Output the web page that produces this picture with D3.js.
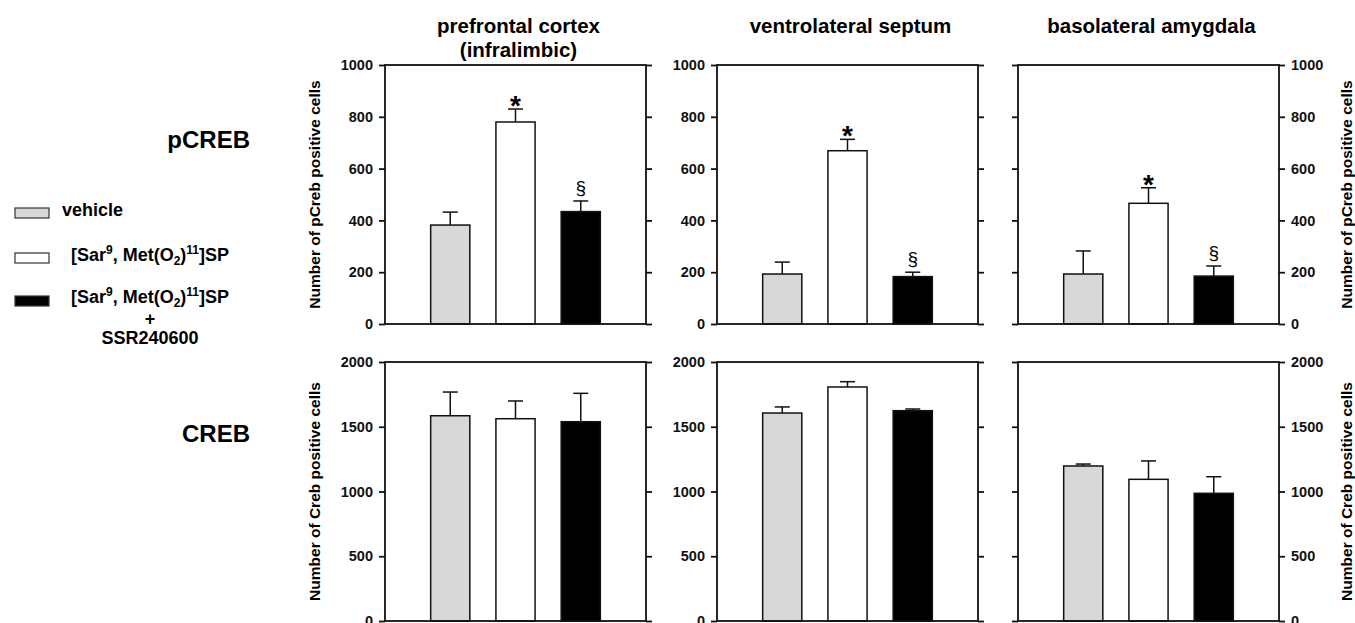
<!DOCTYPE html>
<meta charset="utf-8">
<html>
<head>
  <script src="https://d3js.org/d3.v7.min.js"></script>
  <style>
    body { margin: 0; background: #fff; }
    svg { font-family: "Liberation Sans", Arial, sans-serif; font-weight: bold; }
    .tick text { font-size: 14.5px; font-weight: bold; }
  </style>
</head>
<body>
  <svg width="1355" height="623"></svg>

  <script>
    // groups and regions
    const groups = ["vehicle", "SP", "SP+SSR"];
    const regions = [["prefrontal cortex", "(infralimbic)"], ["ventrolateral septum"], ["basolateral amygdala"]];

    // pCREB counts (mean, SEM) per region, per group
    const pcrebMean = [[382, 780, 434], [193, 669, 183], [193, 466, 185]];
    const pcrebSem  = [[50, 50, 41], [46, 44, 17], [89, 60, 39]];
    const pcrebMarks = [["", "*", "§"], ["", "*", "§"], ["", "*", "§"]];

    // CREB counts
    const crebMean = [[1585, 1562, 1539], [1606, 1807, 1624], [1197, 1094, 986]];
    const crebSem  = [[183, 137, 219], [47, 41, 13], [15, 142, 128]];

    const pcrebTicks = [0, 200, 400, 600, 800, 1000];
    const crebTicks = [0, 500, 1000, 1500, 2000];

    const fills = {"vehicle": "#d8d8d8", "SP": "#ffffff", "SP+SSR": "#000000"};

    const svg = d3.select("svg");
    const panelLeft = [385, 717, 1018];
    const panelW = 261;
    const rows = [
      {top: 65, bottom: 324, max: 1000, ticks: pcrebTicks, mean: pcrebMean, sem: pcrebSem, marks: pcrebMarks,
       label: "Number of pCreb positive cells", name: "pCREB", nameY: 148},
      {top: 362, bottom: 621, max: 2000, ticks: crebTicks, mean: crebMean, sem: crebSem, marks: null,
       label: "Number of Creb positive cells", name: "CREB", nameY: 442}
    ];

    rows.forEach(row => {
      const y = d3.scaleLinear().domain([0, row.max]).range([row.bottom, row.top]);

      svg.append("text")
        .attr("x", 250).attr("y", row.nameY)
        .attr("text-anchor", "end")
        .style("font-size", "24px")
        .text(row.name);

      panelLeft.forEach((x0, p) => {
        const x = d3.scaleBand().domain(groups).range([x0, x0 + panelW])
          .paddingInner(0.4).paddingOuter(0.7);
        const g = svg.append("g");

        // bars
        g.selectAll("rect.bar")
          .data(groups)
          .enter().append("rect")
            .attr("class", "bar")
            .attr("x", d => x(d))
            .attr("width", x.bandwidth())
            .attr("y", (d, i) => y(row.mean[p][i]))
            .attr("height", (d, i) => y(0) - y(row.mean[p][i]))
            .attr("fill", d => fills[d])
            .attr("stroke", "#111")
            .attr("stroke-width", 1.5);

        // error bars (upper only)
        groups.forEach((d, i) => {
          const cx = x(d) + x.bandwidth() / 2;
          const yTop = y(row.mean[p][i] + row.sem[p][i]);
          g.append("line")
            .attr("x1", cx).attr("x2", cx)
            .attr("y1", y(row.mean[p][i])).attr("y2", yTop)
            .attr("stroke", "#111").attr("stroke-width", 1.5);
          g.append("line")
            .attr("x1", cx - 7.5).attr("x2", cx + 7.5)
            .attr("y1", yTop).attr("y2", yTop)
            .attr("stroke", "#111").attr("stroke-width", 1.5);
          if (row.marks && row.marks[p][i] === "*") {
            g.append("text").attr("x", cx).attr("y", yTop + 6)
              .attr("text-anchor", "middle").style("font-size", "28px")
              .text("*");
          } else if (row.marks && row.marks[p][i] === "§") {
            g.append("text").attr("x", cx).attr("y", yTop - 7)
              .attr("text-anchor", "middle").style("font-size", "19px")
              .style("font-weight", "normal")
              .text("§");
          }
        });

        // frame
        g.append("rect")
          .attr("x", x0).attr("y", row.top)
          .attr("width", panelW).attr("height", row.bottom - row.top)
          .attr("fill", "none").attr("stroke", "#111").attr("stroke-width", 1.8);

        // left and right axes
        const leftAx = d3.axisLeft(y).tickValues(row.ticks).tickSize(6).tickPadding(6).tickFormat(d3.format("d"));
        const rightAx = d3.axisRight(y).tickValues(row.ticks).tickSize(6).tickPadding(6).tickFormat(d3.format("d"));
        const la = g.append("g").attr("transform", `translate(${x0},0)`).call(leftAx);
        const ra = g.append("g").attr("transform", `translate(${x0 + panelW},0)`).call(rightAx);
        [la, ra].forEach(a => {
          a.select(".domain").remove();
          a.selectAll(".tick line").attr("stroke", "#111").attr("stroke-width", 1.8);
          a.selectAll(".tick text").attr("fill", "#111");
        });
        if (p === 2) la.selectAll(".tick text").remove();
        else ra.selectAll(".tick text").remove();
      });

      // y-axis titles
      const mid = (row.top + row.bottom) / 2;
      svg.append("text")
        .attr("transform", `translate(320,${mid}) rotate(-90)`)
        .attr("text-anchor", "middle")
        .style("font-size", "15.5px")
        .text(row.label);
      svg.append("text")
        .attr("transform", `translate(1352,${mid}) rotate(-90)`)
        .attr("text-anchor", "middle")
        .style("font-size", "15.5px")
        .text(row.label);
    });

    // region titles
    regions.forEach((lines, p) => {
      const cx = panelLeft[p] + panelW / 2 + 3;
      lines.forEach((t, j) => {
        svg.append("text")
          .attr("x", cx).attr("y", 33 + j * 24)
          .attr("text-anchor", "middle")
          .style("font-size", "20.5px")
          .text(t);
      });
    });

    // legend
    const legend = svg.append("g");
    const legendY = [208, 253, 296];
    groups.forEach((d, i) => {
      legend.append("rect")
        .attr("x", 15).attr("y", legendY[i])
        .attr("width", 34).attr("height", 10)
        .attr("fill", fills[d])
        .attr("stroke", "#333").attr("stroke-width", 1.2);
    });
    legend.append("text").attr("x", 62).attr("y", 216).style("font-size", "18px").text("vehicle");

    function spLabel(yy) {
      const t = legend.append("text").attr("x", 150).attr("y", yy)
        .attr("text-anchor", "middle").style("font-size", "18px");
      t.append("tspan").text("[Sar");
      t.append("tspan").attr("dy", -7).style("font-size", "12px").text("9");
      t.append("tspan").attr("dy", 7).text(", Met(O");
      t.append("tspan").attr("dy", 4).style("font-size", "12px").text("2");
      t.append("tspan").attr("dy", -4).text(")");
      t.append("tspan").attr("dy", -7).style("font-size", "12px").text("11");
      t.append("tspan").attr("dy", 7).text("]SP");
    }
    spLabel(261);
    spLabel(303);
    legend.append("text").attr("x", 150).attr("y", 325).attr("text-anchor", "middle")
      .style("font-size", "18px").text("+");
    legend.append("text").attr("x", 150).attr("y", 344).attr("text-anchor", "middle")
      .style("font-size", "18px").text("SSR240600");
  </script>
</body>
</html>
